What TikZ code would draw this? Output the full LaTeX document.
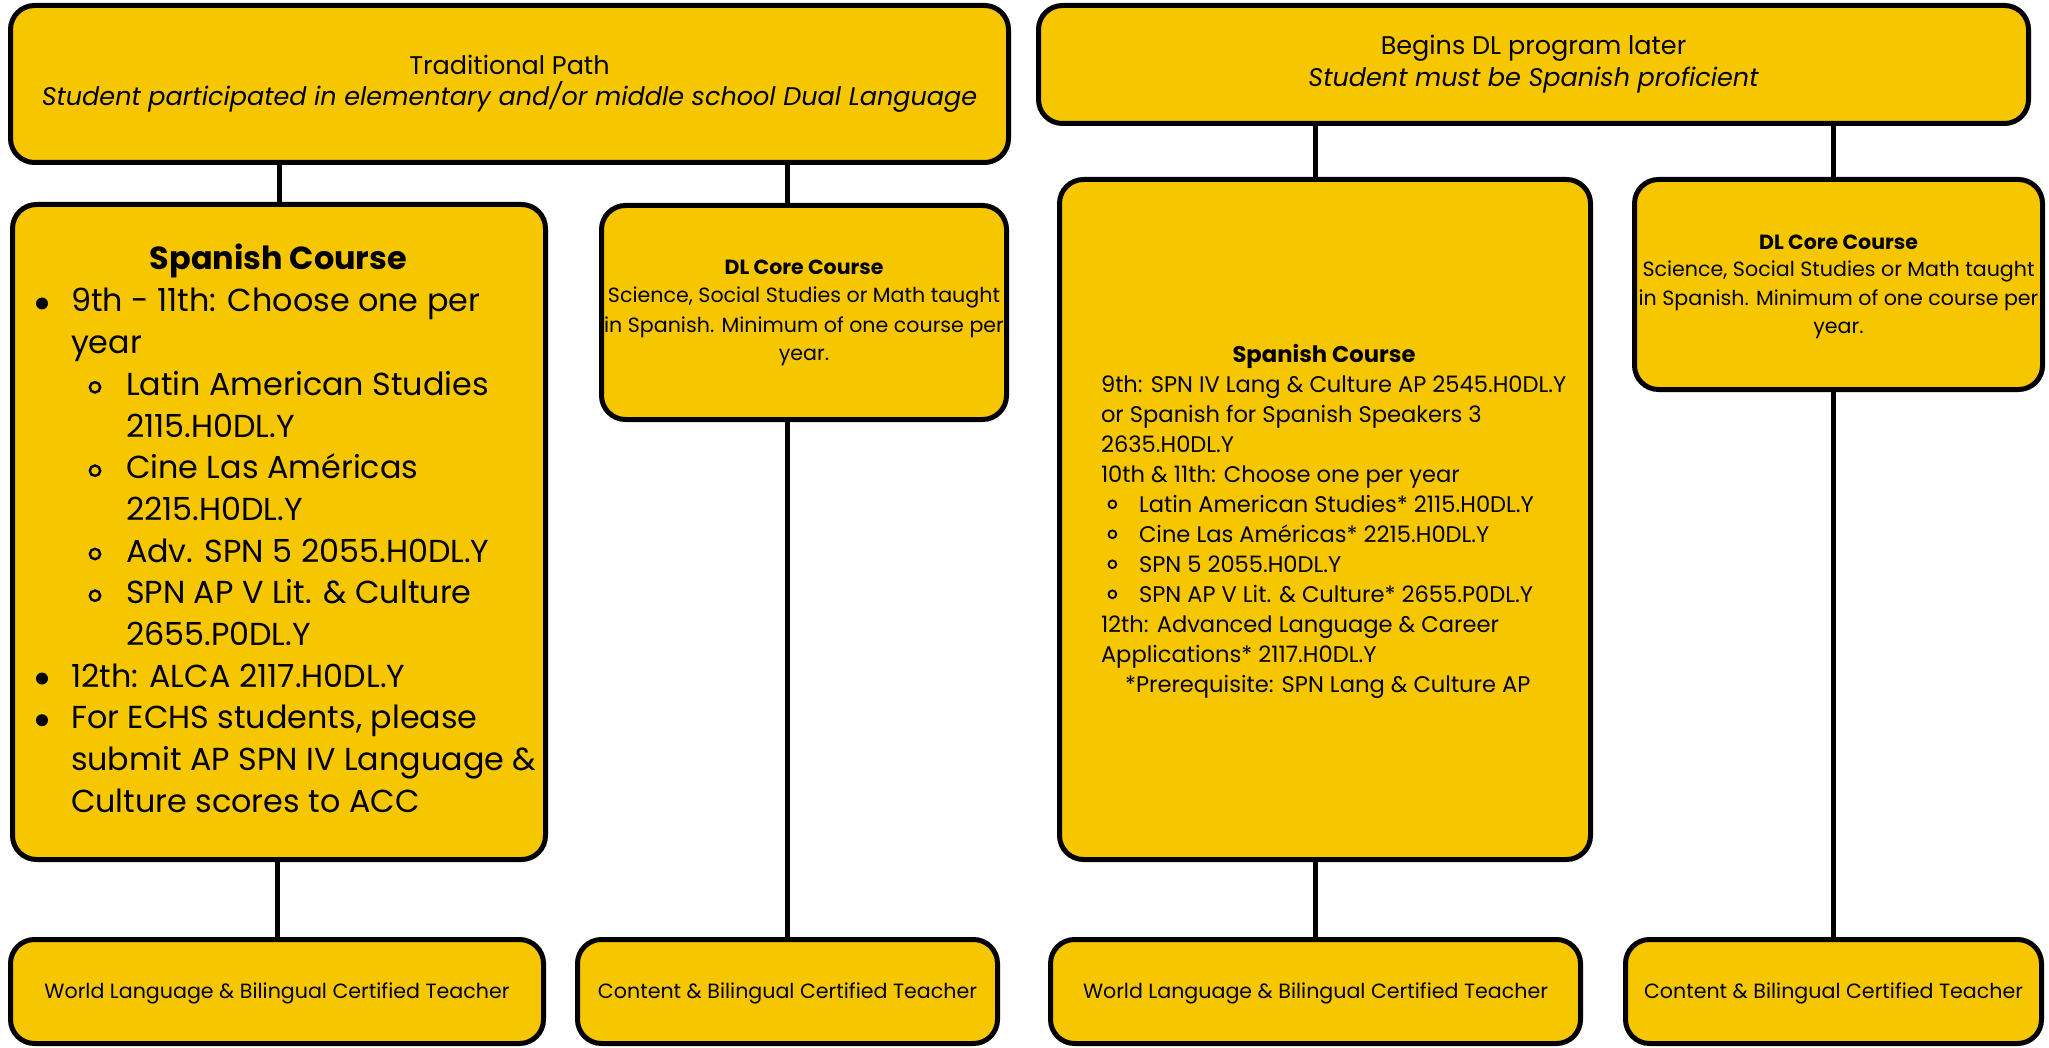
\documentclass[tikz,border=0pt]{standalone}
\usepackage{fontspec}
\setmainfont{Poppins}
\definecolor{dlyellow}{RGB}{246,199,0}
\newcommand\fsTop{\fontsize{25.5}{30}\selectfont}
\newcommand\fsBig{\fontsize{31.8}{41.7}\selectfont}
\newcommand\fsBigT{\fontsize{31.9}{40}\selectfont\bfseries}
\newcommand\fsMid{\fontsize{22.6}{30}\selectfont}
\newcommand\fsMidT{\fontsize{22.7}{30}\selectfont\bfseries}
\newcommand\fsCore{\fontsize{20.6}{28.5}\selectfont}
\newcommand\fsCoreT{\fontsize{20.5}{28.5}\selectfont\bfseries}
\newcommand\fsBot{\fontsize{20.6}{25}\selectfont}
% box from outer edges: name, left, top, right, bottom
\newcommand\mkbox[5]{\node[dlbox, minimum width={#4-#2-5}, minimum height={#5-#3-5}] (#1) at ({(#2+#4)/2},{(#3+#5)/2}) {};}
\begin{document}
\begin{tikzpicture}[x=1pt,y=-1pt,
  dlbox/.style={draw=black, line width=5pt, fill=dlyellow, rounded corners=24pt, inner sep=0pt, outer sep=0pt},
  conn/.style={draw=black, line width=5pt},
  lt/.style={inner sep=0pt, outer sep=0pt, anchor=base west},
  ct/.style={inner sep=0pt, outer sep=0pt, anchor=base},
  dot/.style={fill=black, draw=none},
  ring/.style={draw=black, line width=2.4pt, fill=none},
  sring/.style={draw=black, line width=1.8pt, fill=none}]
\fill[white] (0,0) rectangle (2049,1048);
\useasboundingbox (0,0) rectangle (2049,1048);

% boxes
\mkbox{tl}{8}{3}{1011}{165}
\mkbox{tr}{1036}{3}{2031}{126}
\mkbox{sl}{10}{202}{548}{862}
\mkbox{dll}{599}{203}{1009}{422}
\mkbox{sr}{1057}{177}{1593}{862}
\mkbox{dlr}{1632}{177}{2045}{392}
\mkbox{b1}{8}{937}{546}{1046}
\mkbox{b2}{575}{937}{1000}{1046}
\mkbox{b3}{1048}{937}{1583}{1046}
\mkbox{b4}{1623}{937}{2044}{1046}

% connectors
\draw[conn] (tl.south -| sl.north) -- (sl.north);
\draw[conn] (tl.south -| b2.north) -- (dll.north -| b2.north);
\draw[conn] (tr.south -| b3.north) -- (sr.north -| b3.north);
\draw[conn] (tr.south -| b4.north) -- (dlr.north -| b4.north);
\draw[conn] (sl.south -| b1.north) -- (b1.north);
\draw[conn] (dll.south -| b2.north) -- (b2.north);
\draw[conn] (sr.south -| b3.north) -- (b3.north);
\draw[conn] (dlr.south -| b4.north) -- (b4.north);

% top texts
\node[ct] (tl1) at (509.5,75) {\fsTop Traditional Path};
\node[ct] (tl2) at (509.5,106) {\fsTop\itshape Student participated in elementary and/or middle school Dual Language};
\node[ct] (tr1) at (1533.5,55) {\fsTop Begins DL program later};
\node[ct] (tr2) at (1533.5,87) {\fsTop\itshape Student must be Spanish proficient};

% left Spanish course
\node[ct] (slt) at (278.5,270) {\fsBigT Spanish Course};
\fill[dot] (42,303.5) circle (6);
\node[lt] (sl1) at (71,312) {\fsBig 9th - 11th: Choose one per};
\node[lt] (sl2) at (71,353.7) {\fsBig year};
\draw[ring] (95,387.3) circle (5.2);
\node[lt] (sl3) at (126,395.3) {\fsBig Latin American Studies};
\node[lt] (sl4) at (126,437) {\fsBig 2115.H0DL.Y};
\draw[ring] (95,470.7) circle (5.2);
\node[lt] (sl5) at (126,478.7) {\fsBig Cine Las Américas};
\node[lt] (sl6) at (126,520.3) {\fsBig 2215.H0DL.Y};
\draw[ring] (95,554) circle (5.2);
\node[lt] (sl7) at (126,562) {\fsBig Adv. SPN 5 2055.H0DL.Y};
\draw[ring] (95,595.7) circle (5.2);
\node[lt] (sl8) at (126,603.7) {\fsBig SPN AP V Lit. \& Culture};
\node[lt] (sl9) at (126,645.3) {\fsBig 2655.P0DL.Y};
\fill[dot] (42,678.5) circle (6);
\node[lt] (sl10) at (71,687) {\fsBig 12th: ALCA 2117.H0DL.Y};
\fill[dot] (42,720.2) circle (6);
\node[lt] (sl11) at (71,728.7) {\fsBig For ECHS students, please};
\node[lt] (sl12) at (71,770.3) {\fsBig submit AP SPN IV Language \&};
\node[lt] (sl13) at (71,812) {\fsBig Culture scores to ACC};

% DL core left
\node[ct] (dll1) at (804,275) {\fsCoreT DL Core Course};
\node[ct] (dll2) at (804,303) {\fsCore Science, Social Studies or Math taught};
\node[ct] (dll3) at (804,332) {\fsCore in Spanish. Minimum of one course per};
\node[ct] (dll4) at (804,360) {\fsCore year.};

% DL core right
\node[ct] (dlr1) at (1838.5,250) {\fsCoreT DL Core Course};
\node[ct] (dlr2) at (1838.5,277) {\fsCore Science, Social Studies or Math taught};
\node[ct] (dlr3) at (1838.5,306) {\fsCore in Spanish. Minimum of one course per};
\node[ct] (dlr4) at (1838.5,334) {\fsCore year.};

% right Spanish course
\node[ct] (srt) at (1324,362) {\fsMidT Spanish Course};
\node[lt] (sr1) at (1101,392.3) {\fsMid 9th: SPN IV Lang \& Culture AP 2545.H0DL.Y};
\node[lt] (sr2) at (1101,422.3) {\fsMid or Spanish for Spanish Speakers 3};
\node[lt] (sr3) at (1101,452.3) {\fsMid 2635.H0DL.Y};
\node[lt] (sr4) at (1101,482.3) {\fsMid 10th \& 11th: Choose one per year};
\draw[sring] (1112.4,504.3) circle (3.9);
\node[lt] (sr5) at (1139,512.3) {\fsMid Latin American Studies* 2115.H0DL.Y};
\draw[sring] (1112.4,534.3) circle (3.9);
\node[lt] (sr6) at (1139,542.3) {\fsMid Cine Las Américas* 2215.H0DL.Y};
\draw[sring] (1112.4,564.3) circle (3.9);
\node[lt] (sr7) at (1139,572.3) {\fsMid SPN 5 2055.H0DL.Y};
\draw[sring] (1112.4,594.3) circle (3.9);
\node[lt] (sr8) at (1139,602.3) {\fsMid SPN AP V Lit. \& Culture* 2655.P0DL.Y};
\node[lt] (sr9) at (1101,632.3) {\fsMid 12th: Advanced Language \& Career};
\node[lt] (sr10) at (1101,662.3) {\fsMid Applications* 2117.H0DL.Y};
\node[lt] (sr11) at (1125,692.3) {\fsMid *Prerequisite: SPN Lang \& Culture AP};

% bottom
\node[ct] (b1t) at (b1.center |- 0,998) {\fsBot World Language \& Bilingual Certified Teacher};
\node[ct] (b2t) at (b2.center |- 0,998) {\fsBot Content \& Bilingual Certified Teacher};
\node[ct] (b3t) at (b3.center |- 0,998) {\fsBot World Language \& Bilingual Certified Teacher};
\node[ct] (b4t) at (b4.center |- 0,998) {\fsBot Content \& Bilingual Certified Teacher};
\end{tikzpicture}
\end{document}
